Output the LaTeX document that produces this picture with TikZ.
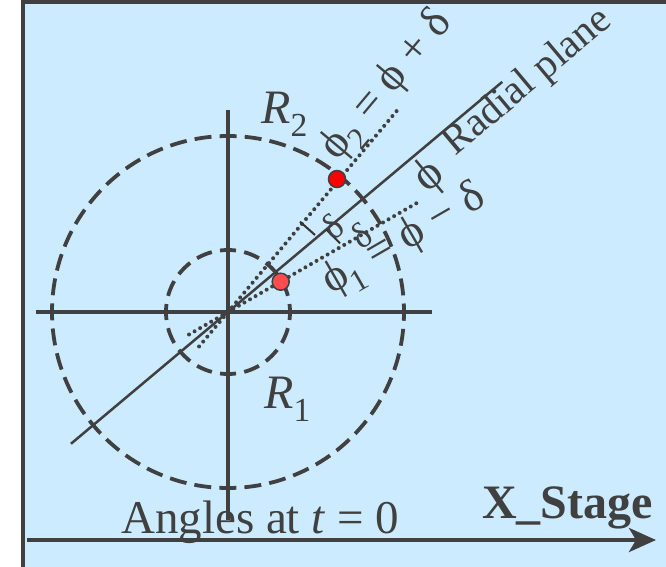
\documentclass[tikz,border=0pt]{standalone}
\usepackage{fontspec}
\setmainfont{Liberation Serif}
\usetikzlibrary{arrows.meta}
\definecolor{bg}{HTML}{CCEBFF}
\definecolor{ink}{HTML}{404040}
\definecolor{redA}{HTML}{FF0000}
\definecolor{redB}{HTML}{FF4C4C}
\newcommand{\fs}[1]{\fontsize{#1pt}{#1pt}\selectfont}
\begin{document}
\begin{tikzpicture}[x=1pt,y=1pt,
  axisline/.style={draw=ink, line width=3.6pt},
  ring/.style={draw=ink, line width=3.8pt},
  radial/.style={draw=ink, line width=2.5pt},
  dotline/.style={draw=ink, line width=4pt, line cap=round, dash pattern=on 0pt off 6.4pt},
  tickline/.style={draw=ink!80!black, line width=2pt},
  pointdot/.style={circle, draw=ink, line width=1.5pt, minimum size=17pt, inner sep=0pt},
  lbl/.style={text=ink, inner sep=0pt},
]
\useasboundingbox (-228,-254) rectangle (438,312);
\begin{scope}
  \clip (-228,-254) rectangle (438,312);
  \fill[bg] (-205,310) rectangle (470,-290);
  \draw[ink, line width=4pt] (-205,-290) -- (-205,310) -- (470,310);
\end{scope}

\coordinate (O) at (0,0);
\coordinate (hL) at (-192,0);
\coordinate (hR) at (204,0);
\coordinate (vT) at (0,202);
\coordinate (vB) at (0,-208);

% circles
\draw[ring, dash pattern=on 17pt off 8.13pt, dash phase=8.5pt] (O) circle[radius=176pt];
\draw[ring, dash pattern=on 16pt off 8.35pt, dash phase=8pt] (O) circle[radius=62pt];

% axes
\draw[axisline] (hL) -- (hR);
\draw[axisline] (vT) -- (vB);

% radial plane and dotted rays
\coordinate (rA) at (220:205);
\coordinate (rB) at (40:358);
\draw[radial] (rA) -- (rB);
\coordinate (uA) at (230:45);
\coordinate (uB) at (50:265);
\coordinate (lA) at (210:45);
\coordinate (lB) at (30:219);
\draw[dotline] (uA) -- (uB);
\draw[dotline] (lA) -- (lB);

% delta ticks
\coordinate (t1a) at (72,90.3);
\coordinate (t1b) at (87,77);
\coordinate (t2a) at (98.7,82);
\coordinate (t2b) at (112,68.7);
\draw[tickline] (t1a) -- (t1b);
\draw[tickline] (t2a) -- (t2b);

% points
\node[pointdot, fill=redA] (p2) at (109,133) {};
\node[pointdot, fill=redB] (p1) at (52.7,30.3) {};

% labels
\node[lbl, anchor=base west] (R2) at (33,189) {\fs{48}\textit{R}\textsubscript{2}};
\node[lbl, anchor=base west] (R1) at (36,-96) {\fs{48}\textit{R}\textsubscript{1}};
\node[lbl, anchor=base west] (ang) at (-107,-221) {\fs{47}Angles at \textit{t} = 0};
\node[lbl, anchor=base west] (xs) at (254,-206) {\fs{48}\textbf{X\_Stage}};

\node[lbl, anchor=base west, rotate=40] (rp) at (227.3,155.4) {\fs{41}Radial plane};
\node[lbl, anchor=center, rotate=40] (phi) at (202,135) {\fs{47}ϕ};
\node[lbl, anchor=base west, rotate=50] (phi2) at (109,150) {\fs{45}ϕ\textsubscript{2} = ϕ + δ};
\node[lbl, anchor=base west, rotate=30] (phi1) at (103,17.5) {\fs{45}ϕ\textsubscript{1} = ϕ − δ};
\node[lbl, anchor=center, rotate=38] (d1) at (105,85) {\fs{36}δ};
\node[lbl, anchor=center, rotate=35] (d2) at (133.7,77) {\fs{36}δ};

% stage arrow
\coordinate (aL) at (-201,-228);
\coordinate (aR) at (428,-228);
\draw[ink, line width=4pt, -{Stealth[length=27pt, width=24pt, inset=7pt]}] (aL) -- (aR);
\end{tikzpicture}
\end{document}
